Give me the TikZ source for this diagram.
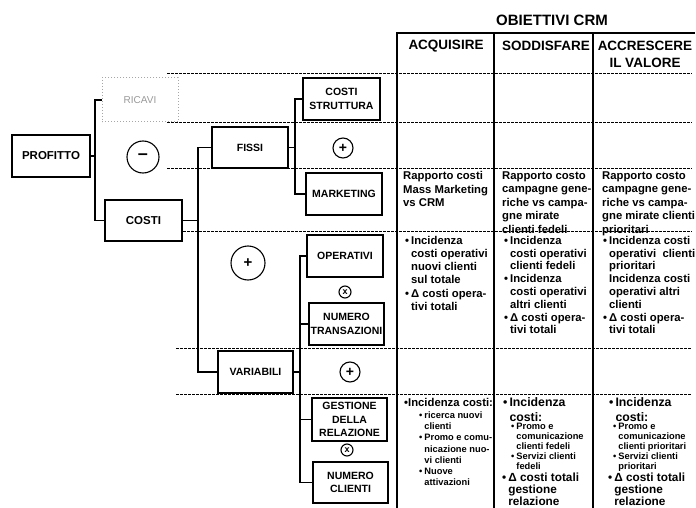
\documentclass[tikz,border=0pt]{standalone}
\usepackage{fontspec}
\setmainfont{Liberation Sans}
\newcommand{\bl}{•\hspace{2pt}}
\newcommand{\hg}{\hphantom{•}\hspace{2pt}}
\begin{document}
\begin{tikzpicture}[x=1pt,y=-1pt,
  box/.style={draw, line width=1.1pt, fill=white, align=center, inner sep=0pt,
    font=\bfseries\fontsize{10.5}{13.5}\selectfont},
  ghost/.style={draw=black!35, dotted, line width=1pt, fill=white, inner sep=0pt,
    text=black!40, font=\fontsize{10}{12}\selectfont},
  op/.style={circle, draw, line width=1.1pt, fill=white, inner sep=0pt},
  link/.style={line width=1.1pt},
  grid/.style={line width=1.2pt},
  dashrow/.style={line width=0.9pt, dash pattern=on 2.5pt off 1.5pt},
  cell/.style={anchor=north west, align=left, inner sep=0pt,
    font=\bfseries\fontsize{11.3}{13.6}\selectfont},
  sub/.style={anchor=north west, align=left, inner sep=0pt,
    font=\bfseries\fontsize{9.3}{11.2}\selectfont},
  big/.style={anchor=north west, align=left, inner sep=0pt,
    font=\bfseries\fontsize{12.3}{14.5}\selectfont},
  head/.style={align=center, inner sep=0pt, font=\bfseries\fontsize{13.5}{17}\selectfont}]
\useasboundingbox (0,0) rectangle (696,508);
\fill[white] (0,0) rectangle (696,508);

% dashed row separators
\draw[dashrow] (167,73) -- (692,73);
\draw[dashrow] (167,122) -- (692,122);
\draw[dashrow] (167,168) -- (692,168);
\draw[dashrow] (167,231) -- (692,231);
\draw[dashrow] (176,348) -- (692,348);
\draw[dashrow] (176,394) -- (692,394);

% table frame
\draw[grid] (397,508) -- (397,33) -- (695,33);
\draw[grid] (494,33) -- (494,508);
\draw[grid] (593,33) -- (593,508);

\node[font=\bfseries\fontsize{15}{17}\selectfont] (title) at (552,20) {OBIETTIVI CRM};
\node[head] (h1) at (446,46) {ACQUISIRE};
\node[head] (h2) at (546,46) {SODDISFARE};
\node[head] (h3) at (645,54) {ACCRESCERE\\IL VALORE};

% tree boxes
\node[box, minimum width=78, minimum height=42, font=\bfseries\fontsize{11.5}{13.5}\selectfont] (profitto) at (51,156) {PROFITTO};
\node[ghost, minimum width=76, minimum height=44] (ricavi) at (140,100) {RICAVI};
\node[box, minimum width=77, minimum height=41, font=\bfseries\fontsize{11.5}{13.5}\selectfont] (costi) at (143.5,220.5) {COSTI};
\node[box, minimum width=76, minimum height=41] (fissi) at (250,147.5) {FISSI};
\node[box, minimum width=77, minimum height=42] (struttura) at (341.5,99) {COSTI\\STRUTTURA};
\node[box, minimum width=76, minimum height=42] (marketing) at (344,194) {MARKETING};
\node[box, minimum width=76, minimum height=42] (operativi) at (345,256) {OPERATIVI};
\node[box, minimum width=75, minimum height=42] (transazioni) at (346.5,324) {NUMERO\\TRANSAZIONI};
\node[box, minimum width=75, minimum height=42] (variabili) at (255.5,372) {VARIABILI};
\node[box, minimum width=75, minimum height=43] (gestione) at (349.5,419.5) {GESTIONE\\DELLA\\RELAZIONE};
\node[box, minimum width=75, minimum height=41] (clienti) at (350.5,482.5) {NUMERO\\CLIENTI};

% operator circles
\node[op, minimum size=32, font=\bfseries\fontsize{18}{18}\selectfont] (minus) at (143,157) {\raisebox{1pt}{–}};
\node[op, minimum size=20, font=\bfseries\fontsize{14}{14}\selectfont] (plus1) at (343,148) {+};
\node[op, minimum size=34, font=\bfseries\fontsize{15}{15}\selectfont] (plus2) at (248,263) {+};
\node[op, minimum size=12, font=\bfseries\fontsize{9}{9}\selectfont] (times1) at (345,292) {\raisebox{0.5pt}{x}};
\node[op, minimum size=20, font=\bfseries\fontsize{14}{14}\selectfont] (plus3) at (350,372) {+};
\node[op, minimum size=12, font=\bfseries\fontsize{9}{9}\selectfont] (times2) at (347,450) {\raisebox{0.5pt}{x}};

% connectors
\coordinate (t1) at (95,156);
\coordinate (t2) at (198,220.5);
\coordinate (t3) at (295,147.5);
\coordinate (t4) at (300,372);
\draw[link] (profitto.east) -- (t1);
\draw[link] (ricavi.west) -| (t1) |- (costi.west);
\draw[link] (costi.east) -- (t2);
\draw[link] (fissi.west) -| (t2) |- (variabili.west);
\draw[link] (fissi.east) -- (t3);
\draw[link] (struttura.west) -| (t3) |- (marketing.west);
\draw[link] (variabili.east) -- (t4);
\draw[link] (operativi.west) -| (t4) |- (clienti.west);
\draw[link] (transazioni.west) -- (t4 |- transazioni.west);
\draw[link] (gestione.west) -- (t4 |- gestione.west);

% row: marketing
\node[cell, font=\bfseries\fontsize{11.3}{13.5}\selectfont] (r1c1) at (403,171.5) {Rapporto costi\\Mass Marketing\\vs CRM};
\node[cell, font=\bfseries\fontsize{11.3}{13.5}\selectfont] (r1c2) at (502,171.5) {Rapporto costo\\campagne gene-\\riche vs campa-\\gne mirate\\clienti fedeli};
\node[cell, font=\bfseries\fontsize{11.3}{13.5}\selectfont] (r1c3) at (602,171.5) {Rapporto costo\\campagne gene-\\riche vs campa-\\gne mirate clienti\\prioritari};

% row: operativi
\node[cell, font=\bfseries\fontsize{11.3}{13.2}\selectfont] (r2c1) at (405,236) {\bl Incidenza\\\hg costi operativi\\\hg nuovi clienti\\\hg sul totale\\\bl Δ costi opera-\\\hg tivi totali};
\node[cell, font=\bfseries\fontsize{11.3}{12.8}\selectfont] (r2c2) at (504,236) {\bl Incidenza\\\hg costi operativi\\\hg clienti fedeli\\\bl Incidenza\\\hg costi operativi\\\hg altri clienti\\\bl Δ costi opera-\\\hg tivi totali};
\node[cell, font=\bfseries\fontsize{11.3}{12.8}\selectfont] (r2c3) at (603,236) {\bl Incidenza costi\\\hg operativi\ \ clienti\\\hg prioritari\\\hg Incidenza costi\\\hg operativi altri\\\hg clienti\\\bl Δ costi opera-\\\hg tivi totali};

% row: gestione relazione
\node[cell] (r4c1) at (404,398) {•Incidenza costi:};
\node[sub] (r4c1s) at (419,411.5) {\bl ricerca nuovi\\\hg clienti\\\bl Promo e comu-\\\hg nicazione nuo-\\\hg vi clienti\\\bl Nuove\\\hg attivazioni};

\node[big] (r4c2) at (503,397.5) {\bl Incidenza\\\hg costi:};
\node[sub, font=\bfseries\fontsize{9.3}{10}\selectfont] (r4c2s) at (511,423) {\bl Promo e\\\hg comunicazione\\\hg clienti fedeli\\\bl Servizi clienti\\\hg fedeli};
\node[big, font=\bfseries\fontsize{11.8}{12}\selectfont] (r4c2d) at (502,473) {\bl Δ costi totali\\\hg gestione\\\hg relazione};

\node[big] (r4c3) at (609,397.5) {\bl Incidenza\\\hg costi:};
\node[sub, font=\bfseries\fontsize{9.3}{10}\selectfont] (r4c3s) at (613,423) {\bl Promo e\\\hg comunicazione\\\hg clienti prioritari\\\bl Servizi clienti\\\hg prioritari};
\node[big, font=\bfseries\fontsize{11.8}{12}\selectfont] (r4c3d) at (608,473) {\bl Δ costi totali\\\hg gestione\\\hg relazione};
\end{tikzpicture}
\end{document}
